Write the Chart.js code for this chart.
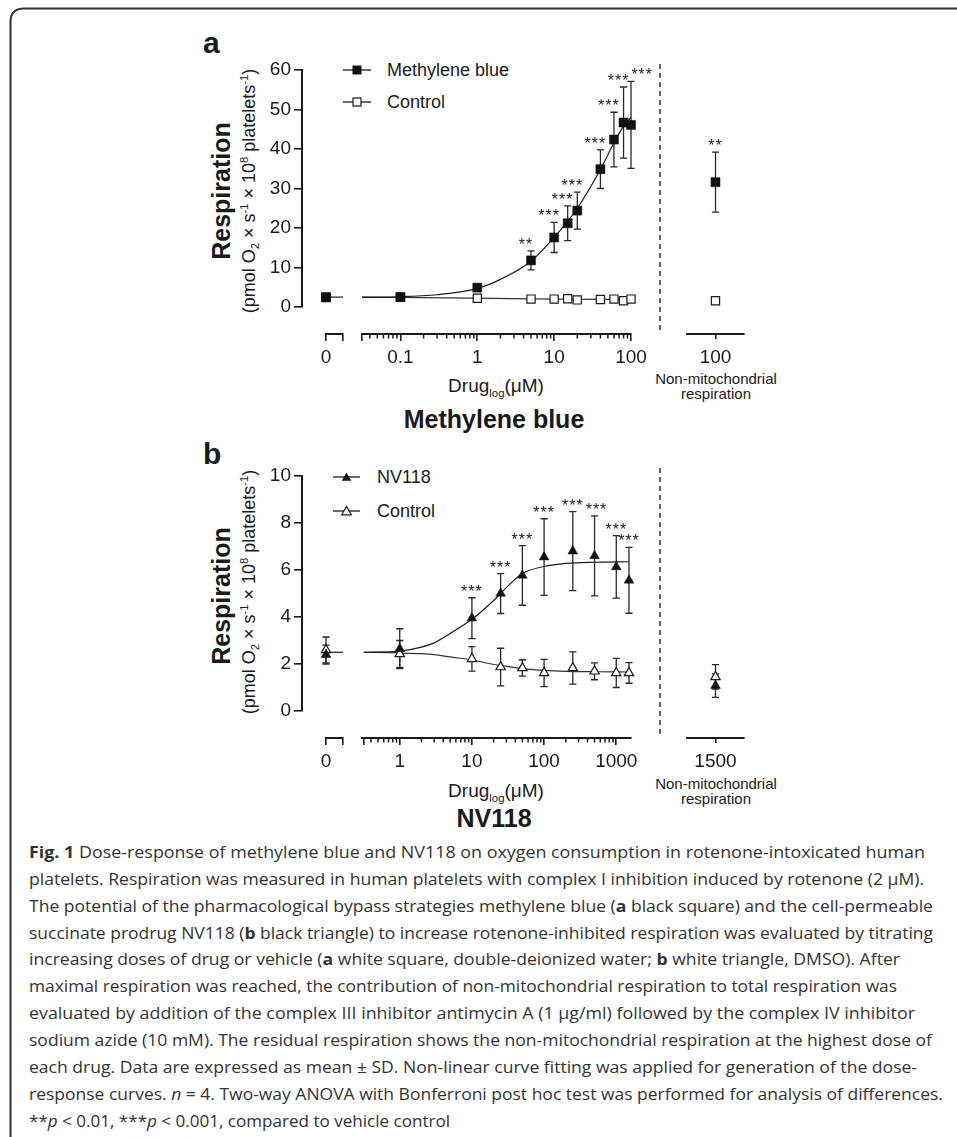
<!DOCTYPE html>
<html><head><meta charset="utf-8"><title>Fig. 1</title>
<script src="https://cdn.jsdelivr.net/npm/chart.js@4.4.1/dist/chart.umd.min.js"></script>
<style>
html,body{margin:0;padding:0;background:#fff}
#page{position:relative;width:957px;height:1137px;overflow:hidden;background:#fff;font-family:"Liberation Sans",Arial,sans-serif;color:#1a1a1a}
#page canvas{position:absolute}
.t{position:absolute;white-space:nowrap;line-height:1}
.c{transform:translateX(-50%)}
.r{position:absolute;white-space:nowrap;line-height:1;transform:translate(-50%,-50%) rotate(-90deg)}
sub,sup{font-size:62%;line-height:0;position:relative;vertical-align:baseline}
sup{top:-0.6em} sub{top:0.4em}
#cap{position:absolute;left:29px;top:0;width:930px;height:1137px;font-family:"Open Sans",sans-serif;color:#333}
.cl{position:absolute;left:0;white-space:nowrap;line-height:1;transform-origin:0 50%}
</style></head><body><div id="page">
<svg width="957" height="1137" style="position:absolute;left:0;top:0">
  <path d="M957,8.5 H24 Q10.5,8.5 10.5,22 V1137" stroke="#333" stroke-width="2" fill="none"/>
  <line x1="660" y1="64" x2="660" y2="332" stroke="#555" stroke-width="1.8" stroke-dasharray="5,4"/>
  <line x1="660" y1="468" x2="660" y2="737" stroke="#555" stroke-width="1.8" stroke-dasharray="5,4"/>
  <line x1="343" y1="70" x2="371" y2="70" stroke="#1a1a1a" stroke-width="1.3"/>
  <rect x="352.5" y="65.5" width="9" height="9" fill="#111"/>
  <line x1="343" y1="102" x2="371" y2="102" stroke="#1a1a1a" stroke-width="1.3"/>
  <rect x="353" y="98" width="8" height="8" fill="#fff" stroke="#1a1a1a" stroke-width="1.2"/>
  <line x1="333" y1="477" x2="360" y2="477" stroke="#1a1a1a" stroke-width="1.3"/>
  <polygon points="346.5,472.5 351.3,480.8 341.7,480.8" fill="#111"/>
  <line x1="333" y1="511" x2="360" y2="511" stroke="#1a1a1a" stroke-width="1.3"/>
  <polygon points="346.5,506.5 351.3,514.8 341.7,514.8" fill="#fff" stroke="#1a1a1a" stroke-width="1.2"/>
</svg>

<div class="t" style="left:203px;top:28px;font-size:30px;font-weight:bold">a</div>
<div class="t" style="left:387px;top:61px;font-size:18px">Methylene blue</div>
<div class="t" style="left:387px;top:93px;font-size:18px">Control</div>
<div class="r" style="left:221px;top:191px;font-size:25px;font-weight:bold">Respiration</div>
<div class="r" style="left:249px;top:191px;font-size:18px">(pmol O<sub>2</sub> × s<sup>-1</sup> × 10<sup>8</sup> platelets<sup>-1</sup>)</div>
<div class="t c" style="left:496px;top:376px;font-size:19px">Drug<sub style="font-size:60%">log</sub>(μM)</div>
<div class="t c" style="left:494px;top:407px;font-size:25px;font-weight:bold">Methylene blue</div>
<div class="t c" style="left:716px;top:371px;font-size:15px">Non-mitochondrial</div>
<div class="t c" style="left:716px;top:386px;font-size:15px">respiration</div>

<div class="t" style="left:203px;top:439px;font-size:30px;font-weight:bold">b</div>
<div class="t" style="left:377px;top:468px;font-size:18px">NV118</div>
<div class="t" style="left:377px;top:502px;font-size:18px">Control</div>
<div class="r" style="left:221px;top:596px;font-size:25px;font-weight:bold">Respiration</div>
<div class="r" style="left:249px;top:592px;font-size:18px">(pmol O<sub>2</sub> × s<sup>-1</sup> × 10<sup>8</sup> platelets<sup>-1</sup>)</div>
<div class="t c" style="left:496px;top:781px;font-size:19px">Drug<sub style="font-size:60%">log</sub>(μM)</div>
<div class="t c" style="left:494px;top:806px;font-size:25px;font-weight:bold">NV118</div>
<div class="t c" style="left:716px;top:776px;font-size:15px">Non-mitochondrial</div>
<div class="t c" style="left:716px;top:791px;font-size:15px">respiration</div>

<div id="cap"></div>
</div>
<script>
// ---------------- Panel a: methylene blue ----------------
const doseA     = [0.1, 1, 5, 10, 15, 20, 40, 60, 80, 100];
const mbMean    = [2.5, 4.9, 11.8, 17.6, 21.2, 24.4, 34.9, 42.4, 46.7, 46.1];
const mbSD      = [0.3, 0.4, 2.4, 3.8, 4.4, 4.7, 4.9, 6.9, 9.0, 11.0];
const mbSig     = ['', '', '**', '***', '***', '***', '***', '***', '***', '***'];
const ctlAMean  = [2.5, 2.2, 2.0, 2.0, 2.1, 1.8, 1.9, 2.0, 1.6, 2.0];
const mbZero    = 2.5;
const ctlAZero  = 2.4;
const mbNonMito = 31.6, mbNonMitoSD = 7.6, mbNonMitoSig = '**';
const ctlANonMito = 1.6;
const fitDoseA  = [0.0316, 0.1, 0.3, 1, 2, 5, 10, 20, 40, 60, 80, 100];
const mbFit     = [2.5, 2.6, 3.1, 4.7, 7.0, 11.6, 17.6, 25.0, 34.8, 41.6, 45.8, 48.0];
const ctlAFitDose = [0.0316, 0.1, 1, 10, 100];
const ctlAFit   = [2.45, 2.45, 2.25, 2.0, 1.9];
const ticksA    = [0.0316, 0.1, 1, 10, 100];
const tickLabelsA = ['', '0.1', '1', '10', '100'];
const nonMitoLabelA = '100';

// ---------------- Panel b: NV118 ----------------
const doseB     = [1, 10, 25, 50, 100, 250, 500, 1000, 1500];
const nvMean    = [2.65, 3.95, 5.0, 5.77, 6.55, 6.8, 6.6, 6.13, 5.56];
const nvSD      = [0.85, 0.87, 0.85, 1.27, 1.63, 1.68, 1.7, 1.33, 1.4];
const nvSig     = ['', '***', '***', '***', '***', '***', '***', '***', '***'];
const ctlBMean  = [2.43, 2.22, 1.87, 1.83, 1.62, 1.83, 1.69, 1.62, 1.62];
const ctlBSD    = [0.57, 0.52, 0.8, 0.35, 0.58, 0.69, 0.36, 0.62, 0.44];
const nvZero = 2.4, nvZeroSD = 0.4, ctlBZero = 2.6, ctlBZeroSD = 0.55;
const nvNonMito = 1.08, nvNonMitoSD = 0.5;
const ctlBNonMito = 1.45, ctlBNonMitoSD = 0.52;
const fitDoseB  = [0.316, 1, 2, 3, 5, 10, 20, 30, 50, 100, 200, 500, 1500];
const nvFit     = [2.5, 2.55, 2.72, 2.9, 3.3, 3.9, 4.7, 5.25, 5.85, 6.15, 6.28, 6.33, 6.35];
const ctlBFit   = [2.5, 2.47, 2.44, 2.4, 2.3, 2.17, 1.98, 1.9, 1.8, 1.73, 1.69, 1.67, 1.66];
const ticksB    = [0.316, 1, 10, 100, 1000];
const tickLabelsB = ['', '1', '10', '100', '1000'];
const nonMitoLabelB = '1500';

// ---------------- Caption ----------------
const capLines = [
 '<b>Fig. 1</b> Dose-response of methylene blue and NV118 on oxygen consumption in rotenone-intoxicated human',
 'platelets. Respiration was measured in human platelets with complex I inhibition induced by rotenone (2 μM).',
 'The potential of the pharmacological bypass strategies methylene blue (<b>a</b> black square) and the cell-permeable',
 'succinate prodrug NV118 (<b>b</b> black triangle) to increase rotenone-inhibited respiration was evaluated by titrating',
 'increasing doses of drug or vehicle (<b>a</b> white square, double-deionized water; <b>b</b> white triangle, DMSO). After',
 'maximal respiration was reached, the contribution of non-mitochondrial respiration to total respiration was',
 'evaluated by addition of the complex III inhibitor antimycin A (1 μg/ml) followed by the complex IV inhibitor',
 'sodium azide (10 mM). The residual respiration shows the non-mitochondrial respiration at the highest dose of',
 'each drug. Data are expressed as mean ± SD. Non-linear curve fitting was applied for generation of the dose-',
 'response curves. <i>n</i> = 4. Two-way ANOVA with Bonferroni post hoc test was performed for analysis of differences.',
 '**<i>p</i> &lt; 0.01, ***<i>p</i> &lt; 0.001, compared to vehicle control'
];
const capRight = [925, 924, 933, 933, 900, 897, 915, 932, 917, 943, 450];

// ---------------- layout ----------------
const page = document.getElementById('page');
const P = 30;
const INK = '#1a1a1a';
const LIB = "'Liberation Sans', Arial, Helvetica, sans-serif";
const TICK_FONT = {family: LIB, size: 19};
const GEO = {
  a: {top: 70, zero: 307, axis: 334, yMax: 60, yStep: 10},
  b: {top: 476, zero: 711, axis: 738, yMax: 10, yStep: 2}
};
const SEG_ZERO = [326, 343], SEG_LOG = [362, 631], SEG_NM = [687, 744];

function makeCanvas(area, yW, xH) {
  const c = document.createElement('canvas');
  const w = Math.round(area.right - area.left + 2 * P + yW);
  const h = Math.round(area.bottom - area.top + 2 * P + xH);
  c.width = w; c.height = h;
  c.style.width = w + 'px'; c.style.height = h + 'px';
  c.style.left = (area.left - P - yW) + 'px';
  c.style.top = (area.top - P) + 'px';
  page.appendChild(c);
  return c;
}

const errorBarsPlugin = {
  id: 'errorBars',
  beforeDatasetsDraw(chart) {
    const ctx = chart.ctx, xs = chart.scales.x, ys = chart.scales.y;
    ctx.save();
    ctx.strokeStyle = '#2a2a2a'; ctx.lineWidth = 1.3;
    chart.data.datasets.forEach(ds => {
      if (!ds.errors) return;
      ds.data.forEach((p, j) => {
        const e = ds.errors[j]; if (!e) return;
        const x = xs.getPixelForValue(p.x);
        const y1 = ys.getPixelForValue(p.y + e), y2 = ys.getPixelForValue(p.y - e);
        ctx.beginPath();
        ctx.moveTo(x, y1); ctx.lineTo(x, y2);
        ctx.moveTo(x - 3.6, y1); ctx.lineTo(x + 3.6, y1);
        ctx.moveTo(x - 3.6, y2); ctx.lineTo(x + 3.6, y2);
        ctx.stroke();
      });
    });
    ctx.restore();
  },
  afterDatasetsDraw(chart, args, opts) {
    const ctx = chart.ctx, xs = chart.scales.x, ys = chart.scales.y;
    ctx.save();
    ctx.fillStyle = INK;
    ctx.font = '16px ' + LIB;
    try { ctx.letterSpacing = '1px'; } catch (e) {}
    ctx.textAlign = 'center'; ctx.textBaseline = 'alphabetic';
    const boxes = [];
    chart.data.datasets.forEach(ds => {
      if (!ds.sig) return;
      ds.data.forEach((p, j) => {
        const s = ds.sig[j]; if (!s) return;
        const e = ds.errors ? ds.errors[j] : 0;
        let x = xs.getPixelForValue(p.x) + ((opts && opts.dx) || 0);
        const y = ys.getPixelForValue(p.y + e) - 1;
        const w = ctx.measureText(s).width;
        const prev = boxes[boxes.length - 1];
        if (prev && Math.abs(prev.y - y) < 8 && x - w / 2 < prev.r + 2) {
          x = prev.r + 2 + w / 2;
        }
        boxes.push({r: x + w / 2, y: y});
        ctx.fillText(s, x, y);
      });
    });
    ctx.restore();
  }
};

const minorTicksPlugin = {
  id: 'minorTicks',
  afterDraw(chart, args, opts) {
    if (!opts || !opts.values) return;
    const s = chart.scales.x, ctx = chart.ctx;
    ctx.save();
    ctx.strokeStyle = INK; ctx.lineWidth = 1.5;
    ctx.beginPath();
    opts.values.forEach(v => {
      const x = s.getPixelForValue(v);
      ctx.moveTo(x, s.top); ctx.lineTo(x, s.top + opts.len);
    });
    ctx.stroke();
    ctx.restore();
  }
};

function minorTickValues(min, max) {
  const out = [];
  for (let d = Math.floor(Math.log10(min)); d <= Math.ceil(Math.log10(max)); d++) {
    for (let k = 2; k <= 9; k++) {
      const v = k * Math.pow(10, d);
      if (v > min * 1.001 && v < max * 0.999) out.push(v);
    }
  }
  return out;
}

function pts(xs, ys) { return xs.map((x, i) => ({x: x, y: ys[i]})); }

function markers(data, style, filledMark, r, errors, sig, order) {
  return {
    data: data, showLine: false, clip: false, order: order,
    pointStyle: style, pointRadius: r, pointHoverRadius: r,
    backgroundColor: filledMark ? '#111' : '#fff',
    borderColor: filledMark ? '#111' : '#1a1a1a',
    pointBorderWidth: filledMark ? 0.5 : 1.2,
    errors: errors, sig: sig
  };
}
function curve(data, color, order) {
  return {
    data: data, showLine: true, clip: false, order: order,
    pointRadius: 0, borderColor: color, borderWidth: 1.2,
    cubicInterpolationMode: 'monotone', fill: false
  };
}

function baseXScale(tickLen, pad) {
  return {
    position: 'bottom',
    border: {display: true, color: INK, width: 2},
    grid: {display: true, drawOnChartArea: false, drawTicks: true, tickLength: tickLen, color: INK, lineWidth: 1.6, offset: false},
    ticks: {font: TICK_FONT, color: INK, padding: pad, autoSkip: false, maxRotation: 0, minRotation: 0}
  };
}

function segChart(area, yMin, yMax, xScale, xH, datasets, pluginOpts) {
  const c = makeCanvas(area, 0, xH);
  xScale.afterFit = s => { s.height = xH; };
  return new Chart(c, {
    type: 'scatter',
    data: {datasets: datasets},
    options: {
      responsive: false, animation: false, events: [],
      layout: {padding: P},
      plugins: Object.assign({legend: {display: false}, tooltip: {enabled: false}}, pluginOpts || {}),
      scales: {x: xScale, y: {display: false, min: yMin, max: yMax}}
    },
    plugins: [errorBarsPlugin, minorTicksPlugin]
  });
}

function yAxisChart(area, yMax, yStep) {
  const YW = 70;
  const c = makeCanvas(area, YW, 0);
  return new Chart(c, {
    type: 'scatter',
    data: {datasets: []},
    options: {
      responsive: false, animation: false, events: [],
      layout: {padding: P},
      plugins: {legend: {display: false}, tooltip: {enabled: false}},
      scales: {
        x: {display: false, min: 0, max: 1},
        y: {
          position: 'left', min: 0, max: yMax,
          afterFit: s => { s.width = YW; },
          ticks: {stepSize: yStep, font: TICK_FONT, color: INK, padding: 3},
          grid: {display: true, drawOnChartArea: false, drawTicks: true, tickLength: 8, color: INK, lineWidth: 1.6},
          border: {display: true, color: INK, width: 2}
        }
      }
    }
  });
}

function buildPanel(g, p) {
  const yMin = -g.yMax * (g.axis - g.zero) / (g.zero - g.top);
  yAxisChart({left: 302, right: 312, top: g.top, bottom: g.zero}, g.yMax, g.yStep);

  const xz = baseXScale(7, 5);
  xz.type = 'linear'; xz.min = 0; xz.max = 1;
  xz.afterBuildTicks = s => { s.ticks = [{value: 0}, {value: 1}]; };
  xz.ticks.callback = v => (v === 0 ? '0' : '');
  segChart({left: SEG_ZERO[0], right: SEG_ZERO[1], top: g.top, bottom: g.axis}, yMin, g.yMax, xz, 40, p.zeroSets, {errorBars: {dx: p.dx}});

  const xl = baseXScale(7, 5);
  xl.type = 'logarithmic'; xl.min = p.ticks[0]; xl.max = p.logMax;
  xl.afterBuildTicks = s => { s.ticks = p.ticks.map(v => ({value: v, major: true})); };
  xl.ticks.callback = v => { const i = p.ticks.indexOf(v); return i >= 0 ? p.tickLabels[i] : ''; };
  segChart({left: SEG_LOG[0], right: SEG_LOG[1], top: g.top, bottom: g.axis}, yMin, g.yMax, xl, 40, p.logSets,
    {errorBars: {dx: p.dx}, minorTicks: {values: minorTickValues(p.ticks[0], p.logMax), len: 4.5}});

  const xn = baseXScale(5, 7);
  xn.type = 'linear'; xn.min = 0; xn.max = 2;
  xn.afterBuildTicks = s => { s.ticks = [{value: 1}]; };
  xn.ticks.callback = () => p.nmLabel;
  segChart({left: SEG_NM[0], right: SEG_NM[1], top: g.top, bottom: g.axis}, yMin, g.yMax, xn, 40, p.nmSets, {errorBars: {dx: 0}});
}

buildPanel(GEO.a, {
  ticks: ticksA, tickLabels: tickLabelsA, logMax: 100, nmLabel: nonMitoLabelA, dx: -5,
  zeroSets: [
    markers([{x: 0, y: mbZero}], 'rect', true, 6.4, null, null, 0),
    markers([{x: 0, y: ctlAZero}], 'rect', false, 5.8, null, null, 1),
    curve([{x: 0, y: mbZero}, {x: 1, y: mbZero}], '#1a1a1a', 5)
  ],
  logSets: [
    markers(pts(doseA, mbMean), 'rect', true, 6.4, mbSD, mbSig, 0),
    markers(pts(doseA, ctlAMean), 'rect', false, 5.8, null, null, 1),
    curve(pts(fitDoseA, mbFit), '#1a1a1a', 5),
    curve(pts(ctlAFitDose, ctlAFit), '#333', 6)
  ],
  nmSets: [
    markers([{x: 1, y: mbNonMito}], 'rect', true, 6.4, [mbNonMitoSD], [mbNonMitoSig], 0),
    markers([{x: 1, y: ctlANonMito}], 'rect', false, 5.8, null, null, 1)
  ]
});

buildPanel(GEO.b, {
  ticks: ticksB, tickLabels: tickLabelsB, logMax: 1600, nmLabel: nonMitoLabelB, dx: 0,
  zeroSets: [
    markers([{x: 0, y: nvZero}], 'triangle', true, 5.6, [nvZeroSD], null, 0),
    markers([{x: 0, y: ctlBZero}], 'triangle', false, 5.4, [ctlBZeroSD], null, 1),
    curve([{x: 0, y: 2.5}, {x: 1, y: 2.5}], '#1a1a1a', 5)
  ],
  logSets: [
    markers(pts(doseB, nvMean), 'triangle', true, 5.6, nvSD, nvSig, 0),
    markers(pts(doseB, ctlBMean), 'triangle', false, 5.4, ctlBSD, null, 1),
    curve(pts(fitDoseB, nvFit), '#1a1a1a', 5),
    curve(pts(fitDoseB, ctlBFit), '#333', 6)
  ],
  nmSets: [
    markers([{x: 1, y: nvNonMito}], 'triangle', true, 5.6, [nvNonMitoSD], null, 0),
    markers([{x: 1, y: ctlBNonMito}], 'triangle', false, 5.4, [ctlBNonMitoSD], null, 1)
  ]
});

(function () {
  const cap = document.getElementById('cap');
  const F = 16, y0 = 853, step = 26.9;
  capLines.forEach((html, i) => {
    const d = document.createElement('div');
    d.className = 'cl';
    d.innerHTML = html;
    d.style.fontSize = F + 'px';
    d.style.top = (y0 + step * i - 0.57 * F) + 'px';
    cap.appendChild(d);
    const w = d.getBoundingClientRect().width;
    if (w > 0) d.style.transform = 'scaleX(' + ((capRight[i] - 29) / w).toFixed(4) + ')';
  });
})();
</script>
</body></html>
